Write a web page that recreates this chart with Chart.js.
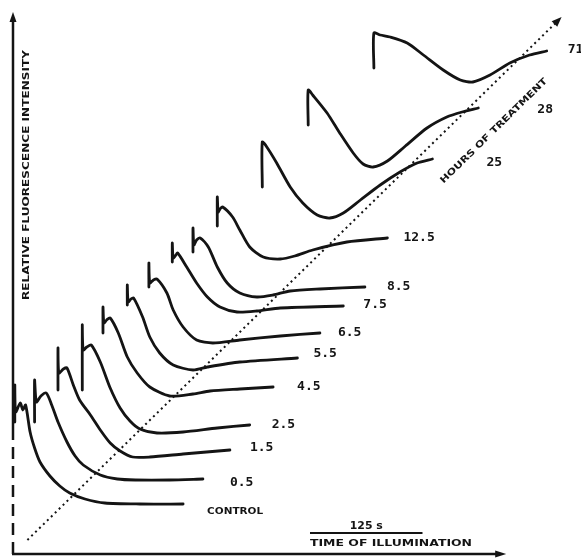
<!DOCTYPE html>
<html>
<head>
<meta charset="utf-8">
<title>Fluorescence induction vs hours of treatment</title>
<script src="https://cdn.jsdelivr.net/npm/chart.js@4.4.0/dist/chart.umd.min.js"></script>
<style>
    html, body { margin: 0; padding: 0; background: #fff; }
    #wrap { position: relative; width: 581px; height: 559px; }
</style>
</head>
<body>
<div id="wrap"><canvas id="fluoChart"></canvas></div>
<script>
// Hours of treatment, one induction trace each
const hours = ['CONTROL', '0.5', '1.5', '2.5', '4.5', '5.5', '6.5', '7.5', '8.5', '12.5', '25', '28', '71'];

// Traces as [time of illumination (s), relative fluorescence]
// (each trace is drawn shifted along the dotted "hours of treatment" axis)
const traceControl = [[2,26.4],[2,33.8],[3,28.4],[8,30.2],[11,28.8],[14,29.8],[19,24.4],[24,21.2],[30,18.4],[41,15.6],[52,13.6],[63,12.2],[80,11],[102,10.2],[141,10],[189,10]];
const trace05 = [[24,26.4],[24,34.8],[26,30.4],[31,31.6],[37,32.2],[43,29.8],[50,26.4],[60,22.4],[69,19.6],[78,17.8],[97,15.8],[116,15],[136,14.8],[174,14.8],[211,15]];
const trace15 = [[50,32.8],[50,41.2],[51,36.2],[56,37],[60,37.2],[67,33.8],[74,30.8],[86,27.8],[97,24.8],[108,22.2],[119,20.6],[133,19.4],[152,19.4],[189,20],[241,20.8]];
const trace25 = [[77,32.8],[77,45.8],[78,40.8],[82,41.4],[87,41.8],[97,38.4],[108,33.2],[119,29.2],[130,26.6],[141,25],[160,24.2],[189,24.4],[227,25.2],[263,25.8]];
const trace45 = [[100,44.2],[100,49.4],[101,46.2],[104,46.8],[108,47.2],[117,44.2],[127,39.4],[138,36.2],[152,33.4],[174,31.6],[200,32],[219,32.6],[252,33],[289,33.4]];
const trace55 = [[127,49.8],[127,53.8],[128,50.4],[131,51],[134,51.2],[144,47.4],[152,43.4],[163,40.2],[178,37.8],[200,36.8],[216,37.4],[252,38.4],[316,39.2]];
const trace65 = [[151,53.4],[151,58.2],[152,54.2],[156,54.8],[160,55],[171,52.2],[178,48.8],[189,45.4],[204,42.8],[222,42.2],[252,42.8],[297,43.6],[341,44.2]];
const trace75 = [[177,58.4],[177,62.2],[178,59.2],[181,59.8],[183,60.2],[193,57.4],[204,54.2],[216,51.4],[230,49.4],[249,48.4],[271,48.6],[297,49.2],[367,49.6]];
const trace85 = [[200,60.4],[200,65.2],[201,61.8],[204,62.8],[208,63.2],[217,61.4],[227,57.4],[238,54.2],[252,52.2],[271,51.4],[289,51.8],[308,52.6],[341,53],[391,53.4]];
const trace125 = [[227,65.6],[227,71.4],[228,68.4],[230,69],[233,69.4],[244,67.4],[252,64.8],[263,61.4],[278,59.4],[297,59],[313,59.6],[333,60.8],[371,62.4],[416,63.2]];
const trace25h = [[277,73.4],[277,82.4],[282,81.4],[293,78.2],[308,73.4],[322,70.2],[338,67.8],[352,67.2],[367,68.2],[386,70.8],[408,73.8],[430,76.4],[449,78.2],[466,79]];
const trace28h = [[328,85.8],[328,92.8],[333,91.8],[349,88.2],[363,84.2],[378,80.2],[389,78],[400,77.4],[416,78.6],[436,81.6],[460,85.2],[482,87.4],[499,88.4],[517,89.2]];
const trace71h = [[401,97.2],[401,104.2],[408,103.8],[419,103.4],[438,102.2],[456,99.8],[478,96.8],[497,94.8],[511,94.4],[530,95.8],[552,98.2],[574,99.8],[593,100.6]];

const traces = [traceControl, trace05, trace15, trace25, trace45, trace55, trace65, trace75, trace85, trace125, trace25h, trace28h, trace71h];

// Dotted "hours of treatment" direction
const treatmentAxis = [[16, 2.8], [604, 106.4]];

// Time scale bar (s) and axis extents
const scaleBar = [330, 455];
const scaleBarLabel = '125 s';
const timeAxisEnd = 548;
const intensityAxisEnd = 108.4;

const INK = '#141414';

// pixel nudges for the hour labels, relative to each trace end
const labelOffsets = [[24,8],[27,4],[20,-2],[22,0],[24,0],[16,-4],[18,0],[20,-1],[22,0],[16,0],[54,4],[59,2],[21,-1]];

function toXY(pts) {
    return pts.map(p => ({ x: p[0], y: p[1] }));
}

// draw text squeezed/stretched to a given width, optionally rotated
function drawFitted(ctx, text, cx, cy, width, font, angle) {
    ctx.save();
    ctx.font = font;
    const w = ctx.measureText(text).width;
    ctx.translate(cx, cy);
    ctx.rotate(angle || 0);
    ctx.scale(width / w, 1);
    ctx.textAlign = 'center';
    ctx.textBaseline = 'middle';
    ctx.fillText(text, 0, 0);
    ctx.restore();
}

function arrowHead(ctx, tipX, tipY, fromX, fromY, len, half) {
    const a = Math.atan2(tipY - fromY, tipX - fromX);
    ctx.beginPath();
    ctx.moveTo(tipX, tipY);
    ctx.lineTo(tipX - len * Math.cos(a) + half * Math.sin(a), tipY - len * Math.sin(a) - half * Math.cos(a));
    ctx.lineTo(tipX - len * Math.cos(a) - half * Math.sin(a), tipY - len * Math.sin(a) + half * Math.cos(a));
    ctx.closePath();
    ctx.fill();
}

const figureDecor = {
    id: 'figureDecor',
    afterDatasetsDraw(chart) {
        const ctx = chart.ctx;
        const xs = chart.scales.x;
        const ys = chart.scales.y;
        const x0 = xs.getPixelForValue(0);
        const y0 = ys.getPixelForValue(0);
        const xEnd = xs.getPixelForValue(timeAxisEnd);
        const yEnd = ys.getPixelForValue(intensityAxisEnd);

        ctx.save();
        ctx.strokeStyle = INK;
        ctx.fillStyle = INK;
        ctx.lineWidth = 2.5;
        ctx.lineCap = 'butt';

        // intensity axis: solid upper part, broken near the origin
        const yBreak = ys.getPixelForValue(24);
        ctx.beginPath();
        ctx.moveTo(x0, yBreak);
        ctx.lineTo(x0, yEnd + 8);
        ctx.stroke();
        ctx.setLineDash([12, 7]);
        ctx.beginPath();
        ctx.moveTo(x0, y0);
        ctx.lineTo(x0, yBreak);
        ctx.stroke();
        ctx.setLineDash([]);
        arrowHead(ctx, x0, yEnd, x0, yEnd + 10, 10, 3.5);

        // time axis
        ctx.beginPath();
        ctx.moveTo(x0 - 1, y0);
        ctx.lineTo(xEnd - 8, y0);
        ctx.stroke();
        arrowHead(ctx, xEnd, y0, xEnd - 10, y0, 11, 3.5);

        // dotted treatment axis arrow
        const a = treatmentAxis[treatmentAxis.length - 2];
        const b = treatmentAxis[treatmentAxis.length - 1];
        arrowHead(ctx, xs.getPixelForValue(b[0]) + 5, ys.getPixelForValue(b[1]) - 5,
            xs.getPixelForValue(a[0]), ys.getPixelForValue(a[1]), 10, 4);

        // scale bar
        const sb0 = xs.getPixelForValue(scaleBar[0]);
        const sb1 = xs.getPixelForValue(scaleBar[1]);
        const sby = ys.getPixelForValue(4.2);
        ctx.lineWidth = 1.8;
        ctx.beginPath();
        ctx.moveTo(sb0, sby);
        ctx.lineTo(sb1, sby);
        ctx.stroke();
        drawFitted(ctx, scaleBarLabel, (sb0 + sb1) / 2, sby - 7, 33, 'bold 10px "DejaVu Sans"');
        drawFitted(ctx, 'TIME OF ILLUMINATION', sb0 + 81, sby + 11, 162, 'bold 9px "DejaVu Sans"');

        // axis titles
        drawFitted(ctx, 'RELATIVE FLUORESCENCE INTENSITY', x0 + 14, 175, 250, 'bold 8px "DejaVu Sans"', -Math.PI / 2);
        drawFitted(ctx, 'HOURS OF TREATMENT', 494, 131, 146, 'bold 9px "DejaVu Sans"', -44.5 * Math.PI / 180);

        // hour labels at trace ends
        traces.forEach((tr, i) => {
            const last = tr[tr.length - 1];
            const px = xs.getPixelForValue(last[0]) + labelOffsets[i][0];
            const py = ys.getPixelForValue(last[1]) + labelOffsets[i][1];
            if (hours[i] === 'CONTROL') {
                drawFitted(ctx, hours[i], px + 28, py, 56, 'bold 9px "DejaVu Sans"');
            } else {
                ctx.font = 'bold 13px "DejaVu Sans Mono"';
                ctx.textAlign = 'left';
                ctx.textBaseline = 'middle';
                ctx.fillText(hours[i], px, py);
            }
        });
        ctx.restore();
    }
};

const datasets = traces.map((tr, i) => ({
    label: hours[i],
    data: toXY(tr),
    showLine: true,
    borderColor: INK,
    borderWidth: 2.8,
    pointRadius: 0,
    tension: 0.25,
    borderJoinStyle: 'round',
    borderCapStyle: 'round'
}));

datasets.push({
    label: 'hours of treatment',
    data: toXY(treatmentAxis),
    showLine: true,
    borderColor: INK,
    borderWidth: 2,
    borderDash: [2, 3.5],
    pointRadius: 0,
    tension: 0
});

new Chart(document.getElementById('fluoChart'), {
    type: 'scatter',
    data: { datasets: datasets },
    options: {
        responsive: true,
        maintainAspectRatio: false,
        animation: false,
        devicePixelRatio: 1,
        layout: { padding: 0 },
        plugins: {
            legend: { display: false },
            tooltip: { enabled: false }
        },
        scales: {
            x: { type: 'linear', min: -14.444, max: 631.111, display: false },
            y: { type: 'linear', min: -1, max: 110.8, display: false }
        }
    },
    plugins: [figureDecor]
});
</script>
</body>
</html>
